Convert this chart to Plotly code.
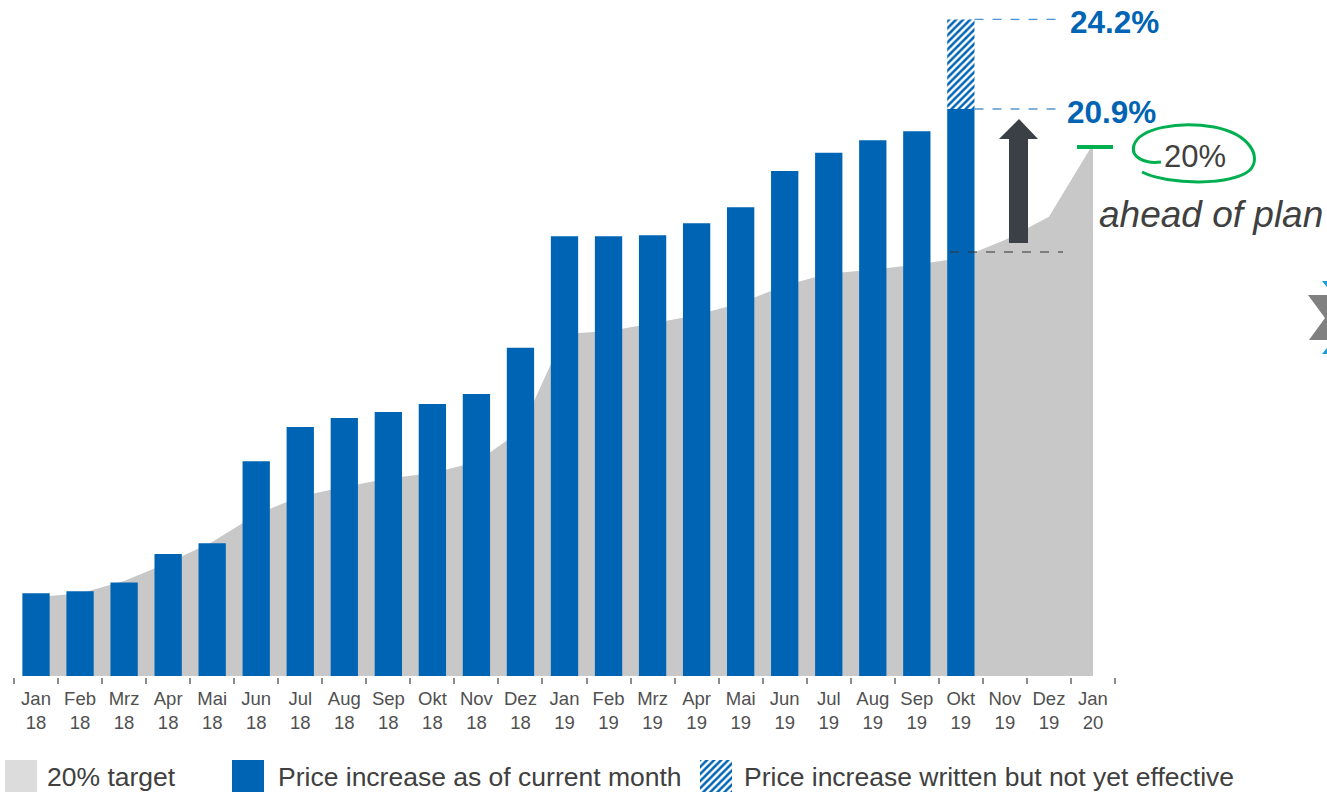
import plotly.graph_objects as go

W, H = 1327, 792

# ---------------- data ----------------
tick_month = ["Jan", "Feb", "Mrz", "Apr", "Mai", "Jun", "Jul", "Aug", "Sep", "Okt", "Nov", "Dez",
              "Jan", "Feb", "Mrz", "Apr", "Mai", "Jun", "Jul", "Aug", "Sep", "Okt", "Nov", "Dez",
              "Jan"]
tick_year = ["18"] * 12 + ["19"] * 12 + ["20"]
categories = [f"{m}<br>{y}" for m, y in zip(tick_month, tick_year)]

# price increase as of current month (%), Jan 18 .. Okt 19
price_increase = [3.05, 3.12, 3.45, 4.50, 4.89, 7.92, 9.18, 9.51, 9.73, 10.03, 10.39, 12.10,
                  16.21, 16.21, 16.25, 16.69, 17.28, 18.61, 19.29, 19.75, 20.08, 20.90]
# 20% target path (%), Jan 18 .. Jan 20
target = [2.91, 3.04, 3.50, 4.17, 4.94, 5.95, 6.63, 6.97, 7.28, 7.48, 7.89, 9.03,
          12.61, 12.72, 12.99, 13.31, 13.75, 14.39, 14.84, 14.97, 15.17, 15.41, 16.07, 16.93,
          19.61]
written_category = "Okt<br>19"
written_total = 24.2        # incl. written but not yet effective
current_value = 20.9
target_marker = 19.5
target_label = "20%"
legend_labels = ["20% target", "Price increase as of current month",
                 "Price increase written but not yet effective"]

BLUE = "#0064B4"
LIGHTBLUE = "#4F94D4"
AREA = "#C8C8C8"
LEGGRAY = "#DCDCDC"
DARK = "#404040"
GREEN = "#00B050"
FONT = "Liberation Sans, Arial, sans-serif"

# plot area in pixels
L, R, T, B = 14, 1115, 0, 676
PX_PER_PCT = 27.13
YMAX = (B - T) / PX_PER_PCT


def px(x, y):
    return x / W, 1 - y / H


def path(points, close=True):
    s = ""
    for i, (x, y) in enumerate(points):
        a, b = px(x, y)
        s += ("M" if i == 0 else "L") + f"{a:.5f},{b:.5f} "
    return s + ("Z" if close else "")


HATCH = dict(shape="/", fgcolor=BLUE, bgcolor="white", size=5, solidity=0.5, fillmode="replace")

fig = go.Figure()

fig.add_trace(go.Scatter(
    x=categories, y=target, mode="lines", line=dict(width=0, color=AREA),
    fill="tozeroy", fillcolor=AREA, zorder=0, showlegend=False, hoverinfo="skip"))

fig.add_trace(go.Bar(
    x=categories[:len(price_increase)], y=price_increase, width=0.62,
    marker=dict(color=BLUE, line=dict(width=0)), zorder=1, showlegend=False))

fig.add_trace(go.Bar(
    x=[written_category], y=[written_total - current_value], base=[current_value], width=0.62,
    marker=dict(color="white", line=dict(width=0), pattern=HATCH),
    zorder=1, showlegend=False))

# legend hatched swatch on its own tiny axes
fig.add_trace(go.Bar(
    x=[0], y=[1], width=1, xaxis="x2", yaxis="y2",
    marker=dict(color="white", line=dict(width=0), pattern=HATCH),
    showlegend=False))

fig.update_layout(
    width=W, height=H, margin=dict(l=0, r=0, t=0, b=0),
    paper_bgcolor="white", plot_bgcolor="white", barmode="overlay",
    showlegend=False, font=dict(family=FONT, color=DARK),
    xaxis=dict(domain=[L / W, R / W], type="category", range=[-0.5, 24.5],
               showline=True, linecolor="#8C8C8C", linewidth=2,
               ticks="outside", tickson="boundaries", ticklen=6, tickwidth=2, tickcolor="#8C8C8C",
               ticklabelstandoff=5, tickangle=0,
               tickfont=dict(size=18.5, color="#505050", family=FONT), showgrid=False,
               automargin=False, fixedrange=True),
    yaxis=dict(domain=[1 - B / H, 1 - T / H], range=[0, YMAX], visible=False,
               showgrid=False, zeroline=False, fixedrange=True),
    xaxis2=dict(domain=[700 / W, 732 / W], range=[-0.5, 0.5], visible=False, anchor="y2",
                fixedrange=True),
    yaxis2=dict(domain=[0, 32 / H], range=[0, 1], visible=False, anchor="x2", fixedrange=True),
)


def xd(p):
    return (p - L) / ((R - L) / 25) - 0.5


okt_idx = categories.index(written_category)
bar_right = okt_idx + 0.31
shapes = [
    dict(type="line", xref="x", yref="y", x0=bar_right, x1=xd(1057), y0=written_total, y1=written_total,
         line=dict(color=LIGHTBLUE, width=1.2, dash="dash")),
    dict(type="line", xref="x", yref="y", x0=bar_right, x1=xd(1057), y0=current_value, y1=current_value,
         line=dict(color=BLUE, width=1.2, dash="dash")),
    dict(type="line", xref="x", yref="y", x0=xd(950), x1=xd(1063), y0=(B - 252) / PX_PER_PCT,
         y1=(B - 252) / PX_PER_PCT, line=dict(color="#333333", width=1, dash="dash")),
    dict(type="line", xref="x", yref="y", x0=xd(1077), x1=xd(1113), y0=target_marker, y1=target_marker,
         line=dict(color=GREEN, width=4)),
    # up arrow
    dict(type="path", xref="paper", yref="paper",
         path=path([(1009, 243), (1028, 243), (1028, 139), (1038, 139), (1019, 119), (999, 139), (1009, 139)]),
         fillcolor="#3B4046", line=dict(width=0)),
    # legend swatches
    dict(type="rect", xref="paper", yref="paper", x0=5 / W, x1=37 / W, y0=0, y1=32 / H,
         fillcolor=LEGGRAY, line=dict(width=0)),
    dict(type="rect", xref="paper", yref="paper", x0=232 / W, x1=264 / W, y0=0, y1=32 / H,
         fillcolor=BLUE, line=dict(width=0)),
    # cut-off chevron at right edge
    dict(type="path", xref="paper", yref="paper",
         path=path([(1308, 295), (1327, 295), (1327, 340), (1309, 340), (1325, 318)]),
         fillcolor="#808080", line=dict(width=0)),
    dict(type="path", xref="paper", yref="paper",
         path=path([(1322, 281), (1327, 281), (1327, 287)]), fillcolor="#1A9AD6", line=dict(width=0)),
    dict(type="path", xref="paper", yref="paper",
         path=path([(1327, 348), (1327, 354), (1322, 354)]), fillcolor="#1A9AD6", line=dict(width=0)),
]

# hand-drawn green ellipse around "20%"
def cpath(segs):
    s = ""
    for cmd, pts in segs:
        s += cmd + " ".join("%.5f,%.5f" % px(x, y) for x, y in pts) + " "
    return s

ell = cpath([
    ("M", [(1142, 172)]),
    ("C", [(1168, 185), (1232, 186), (1250, 170)]),
    ("C", [(1262, 157), (1250, 134), (1214, 127)]),
    ("C", [(1178, 121), (1140, 128), (1134, 145)]),
    ("C", [(1130, 158), (1146, 164), (1161, 162)]),
])
shapes.append(dict(type="path", xref="paper", yref="paper", path=ell,
                   line=dict(color=GREEN, width=3)))
fig.update_layout(shapes=shapes)


def ann(text, x, y, size, color=DARK, bold=False, italic=False, xanchor="left"):
    a, b = px(x, y)
    t = f"<b>{text}</b>" if bold else text
    return dict(text=t, x=a, y=b, xref="paper", yref="paper", xanchor=xanchor, yanchor="middle",
                showarrow=False, font=dict(size=size, color=color, family=FONT,
                                           style="italic" if italic else "normal"))


annotations = [
    ann(f"{written_total:.1f}%", 1068, 22, 31.5, BLUE, bold=True),
    ann(f"{current_value:.1f}%", 1065, 112, 31.5, BLUE, bold=True),
    ann(target_label, 1162, 157, 31, DARK),
    ann("ahead of plan", 1097, 214, 37, DARK, italic=True),
    ann(legend_labels[0], 45, 777, 26.5, DARK),
    ann(legend_labels[1], 276, 777, 26.5, DARK),
    ann(legend_labels[2], 742, 777, 26.5, DARK),
]
fig.update_layout(annotations=annotations)

fig.write_html("out.html", config={"displayModeBar": False},
               post_script="document.body.style.margin='0';document.body.style.overflow='hidden';")
